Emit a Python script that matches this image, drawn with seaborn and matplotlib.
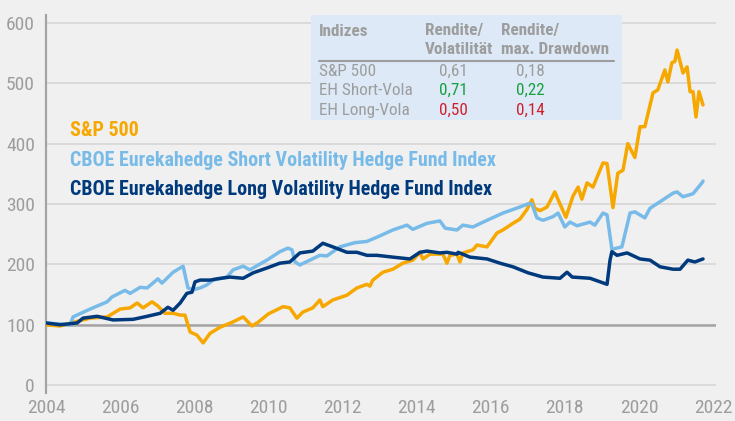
import pandas as pd
import matplotlib
matplotlib.use('Agg')
import matplotlib.pyplot as plt
from matplotlib import font_manager
from matplotlib.patches import Rectangle
from matplotlib.lines import Line2D
import seaborn as sns

# S&P 500 (Jahr, Indexwert)
sp_jahr = [2004.00, 2004.38, 2004.73, 2005.19, 2005.65, 2006.00, 2006.27, 2006.46, 2006.62, 2006.86,
           2007.02, 2007.21, 2007.43, 2007.62, 2007.75, 2007.89, 2008.07, 2008.24, 2008.43, 2008.70,
           2009.02, 2009.32, 2009.56, 2009.72, 2010.00, 2010.40, 2010.58, 2010.77, 2010.93, 2011.20,
           2011.39, 2011.47, 2011.74, 2012.12, 2012.39, 2012.66, 2012.74, 2012.82, 2013.09, 2013.36,
           2013.63, 2013.90, 2014.09, 2014.17, 2014.36, 2014.71, 2014.82, 2014.90, 2015.09, 2015.17,
           2015.25, 2015.52, 2015.63, 2015.90, 2016.17, 2016.33, 2016.60, 2016.79, 2016.98, 2017.11,
           2017.19, 2017.33, 2017.52, 2017.73, 2017.87, 2018.03, 2018.22, 2018.36, 2018.46, 2018.60,
           2018.76, 2019.03, 2019.14, 2019.30, 2019.43, 2019.57, 2019.70, 2019.89, 2020.03, 2020.16,
           2020.38, 2020.51, 2020.70, 2020.78, 2020.89, 2020.97, 2021.03, 2021.19, 2021.30, 2021.38,
           2021.46, 2021.54, 2021.62, 2021.73]
sp_wert = [100, 98, 104, 111, 113, 126, 128, 136, 128, 138,
           131, 119, 119, 116, 116, 88, 83, 70, 86, 96,
           104, 113, 98, 104, 118, 130, 128, 111, 121, 128,
           141, 130, 141, 149, 161, 167, 164, 174, 187, 192,
           202, 207, 220, 209, 217, 217, 202, 215, 217, 204,
           219, 224, 232, 229, 252, 257, 268, 275, 291, 307,
           293, 289, 295, 320, 300, 278, 313, 328, 308, 335,
           328, 368, 367, 294, 351, 356, 400, 377, 428, 428,
           484, 489, 522, 502, 534, 536, 555, 517, 527, 486,
           486, 444, 486, 464]

# CBOE Eurekahedge Short Volatility Hedge Fund Index
short_jahr = [2004.00, 2004.65, 2004.73, 2005.19, 2005.65, 2005.78, 2006.13, 2006.27, 2006.54, 2006.73,
              2007.02, 2007.13, 2007.43, 2007.70, 2007.83, 2007.97, 2008.16, 2008.34, 2008.51, 2008.88,
              2009.05, 2009.32, 2009.50, 2009.96, 2010.31, 2010.53, 2010.64, 2010.72, 2010.85, 2011.12,
              2011.39, 2011.58, 2011.93, 2012.34, 2012.66, 2012.93, 2013.36, 2013.74, 2013.90, 2014.28,
              2014.63, 2014.77, 2015.09, 2015.25, 2015.52, 2015.90, 2016.33, 2016.79, 2017.04, 2017.11,
              2017.25, 2017.41, 2017.68, 2017.82, 2018.00, 2018.14, 2018.33, 2018.68, 2018.81, 2019.03,
              2019.14, 2019.27, 2019.54, 2019.76, 2019.89, 2020.16, 2020.30, 2020.65, 2020.92, 2021.03,
              2021.19, 2021.46, 2021.70, 2021.73]
short_wert = [103, 100, 113, 126, 138, 146, 157, 152, 162, 161,
              176, 169, 187, 197, 161, 158, 161, 166, 174, 179,
              191, 197, 191, 207, 221, 227, 224, 204, 199, 207,
              215, 214, 229, 236, 238, 245, 257, 265, 258, 268,
              272, 260, 257, 265, 262, 273, 285, 295, 301, 300,
              277, 273, 279, 285, 262, 270, 264, 270, 265, 285,
              282, 225, 229, 285, 287, 277, 293, 307, 318, 320,
              312, 317, 335, 338]

# CBOE Eurekahedge Long Volatility Hedge Fund Index
long_jahr = [2004.00, 2004.38, 2004.84, 2005.00, 2005.38, 2005.81, 2006.35, 2006.73, 2007.08, 2007.29,
             2007.43, 2007.62, 2007.80, 2007.94, 2008.02, 2008.16, 2008.43, 2008.61, 2008.96, 2009.32,
             2009.59, 2009.96, 2010.31, 2010.58, 2010.85, 2011.20, 2011.47, 2011.74, 2012.12, 2012.39,
             2012.66, 2012.93, 2013.36, 2013.82, 2014.09, 2014.28, 2014.63, 2014.82, 2015.09, 2015.12,
             2015.44, 2015.90, 2016.25, 2016.60, 2017.01, 2017.41, 2017.87, 2018.06, 2018.20, 2018.68,
             2019.14, 2019.22, 2019.27, 2019.41, 2019.68, 2020.03, 2020.30, 2020.57, 2020.92, 2021.11,
             2021.32, 2021.51, 2021.73]
long_wert = [103, 100, 103, 111, 114, 108, 109, 114, 119, 129,
             124, 136, 152, 154, 171, 174, 174, 176, 179, 177,
             186, 194, 202, 204, 219, 222, 235, 229, 220, 220,
             215, 215, 212, 209, 220, 222, 219, 220, 217, 220,
             212, 209, 202, 196, 186, 179, 177, 187, 179, 177,
             167, 207, 221, 215, 219, 209, 207, 196, 192, 192,
             207, 204, 209]

namen = ['S&P 500',
         'CBOE Eurekahedge Short Volatility Hedge Fund Index',
         'CBOE Eurekahedge Long Volatility Hedge Fund Index']

# table values
tab_zeilen = ['S&P 500', 'EH Short-Vola', 'EH Long-Vola']
tab_vola = ['0,61', '0,71', '0,50']
tab_dd = ['0,18', '0,22', '0,14']

bg = '#f0f0f0'
grey = '#9d9d9d'
farben = ['#f7a800', '#78bbe8', '#003a7d']
tab_farben = ['#9d9d9d', '#16a040', '#d0202e']

df = pd.concat([
    pd.DataFrame({'jahr': sp_jahr, 'wert': sp_wert, 'serie': namen[0]}),
    pd.DataFrame({'jahr': short_jahr, 'wert': short_wert, 'serie': namen[1]}),
    pd.DataFrame({'jahr': long_jahr, 'wert': long_wert, 'serie': namen[2]}),
])

sns.set_style('white', {'axes.facecolor': bg, 'figure.facecolor': bg})

# condensed font like the original, if one is there
schrift = 'Liberation Sans'
for kand in ['Roboto Condensed', 'Archivo Narrow', 'Asap Condensed', 'Barlow Semi Condensed']:
    try:
        font_manager.findfont(kand, fallback_to_default=False)
        schrift = kand
        break
    except ValueError:
        pass
plt.rcParams['font.family'] = [schrift, 'DejaVu Sans']

W, H = 735, 421
def fx(x):
    return x / W
def fy(y):
    return 1 - y / H

fig = plt.figure(figsize=(7.35, 4.21), dpi=100)
ax = fig.add_axes([fx(46), fy(393), 670 / W, 378 / H])

sns.lineplot(data=df, x='jahr', y='wert', hue='serie', palette=dict(zip(namen, farben)),
             hue_order=namen, legend=False, linewidth=2.5, ax=ax, zorder=3)

ax.set_xlim(2004, 2022.08)
ax.set_ylim(-13, 613)
ax.set_xticks(range(2004, 2023, 2))
ax.set_yticks(range(0, 601, 100))
ax.grid(axis='y', color='#d6d6d6', lw=1.2, zorder=1)
ax.axhline(100, color='#a4a4a4', lw=1.8, zorder=2)
for s in ['top', 'right', 'bottom']:
    ax.spines[s].set_visible(False)
ax.spines['left'].set_color('#a4a4a4')
ax.spines['left'].set_linewidth(1.6)
ax.tick_params(axis='both', length=0, colors=grey, labelsize=14)
ax.tick_params(axis='y', pad=8)
ax.tick_params(axis='x', pad=4)
ax.set_xlabel('')
ax.set_ylabel('')

# legend as coloured text
for i, (n, c) in enumerate(zip(namen, farben)):
    fig.text(fx(70), fy([131, 161, 190][i]), n, color=c, fontsize=14.4, fontweight='bold', va='center')

# table box
fig.patches.append(Rectangle((fx(311), fy(120)), 311 / W, 105 / H, transform=fig.transFigure,
                             facecolor='#dde9f6', edgecolor='none', zorder=4))
fig.text(fx(319), fy(31), 'Indizes', color=grey, fontsize=12.3, fontweight='bold', va='center', zorder=5)
fig.text(fx(425), fy(31), 'Rendite/', color=grey, fontsize=12.3, fontweight='bold', va='center', zorder=5)
fig.text(fx(425), fy(49), 'Volatilität', color=grey, fontsize=12.3, fontweight='bold', va='center', zorder=5)
fig.text(fx(501), fy(31), 'Rendite/', color=grey, fontsize=12.3, fontweight='bold', va='center', zorder=5)
fig.text(fx(501), fy(49), 'max. Drawdown', color=grey, fontsize=12.3, fontweight='bold', va='center', zorder=5)
fig.lines.append(Line2D([fx(319), fx(614)], [fy(60.5), fy(60.5)], transform=fig.transFigure,
                        color=grey, lw=1.5, zorder=5))
for i, y in enumerate([71, 90.5, 110]):
    fig.text(fx(319), fy(y), tab_zeilen[i], color=grey, fontsize=12.3, va='center', zorder=5)
    fig.text(fx(453), fy(y), tab_vola[i], color=tab_farben[i], fontsize=12.3, va='center', ha='center', zorder=5)
    fig.text(fx(530), fy(y), tab_dd[i], color=tab_farben[i], fontsize=12.3, va='center', ha='center', zorder=5)

fig.savefig('out.png', dpi=100, facecolor=bg)
